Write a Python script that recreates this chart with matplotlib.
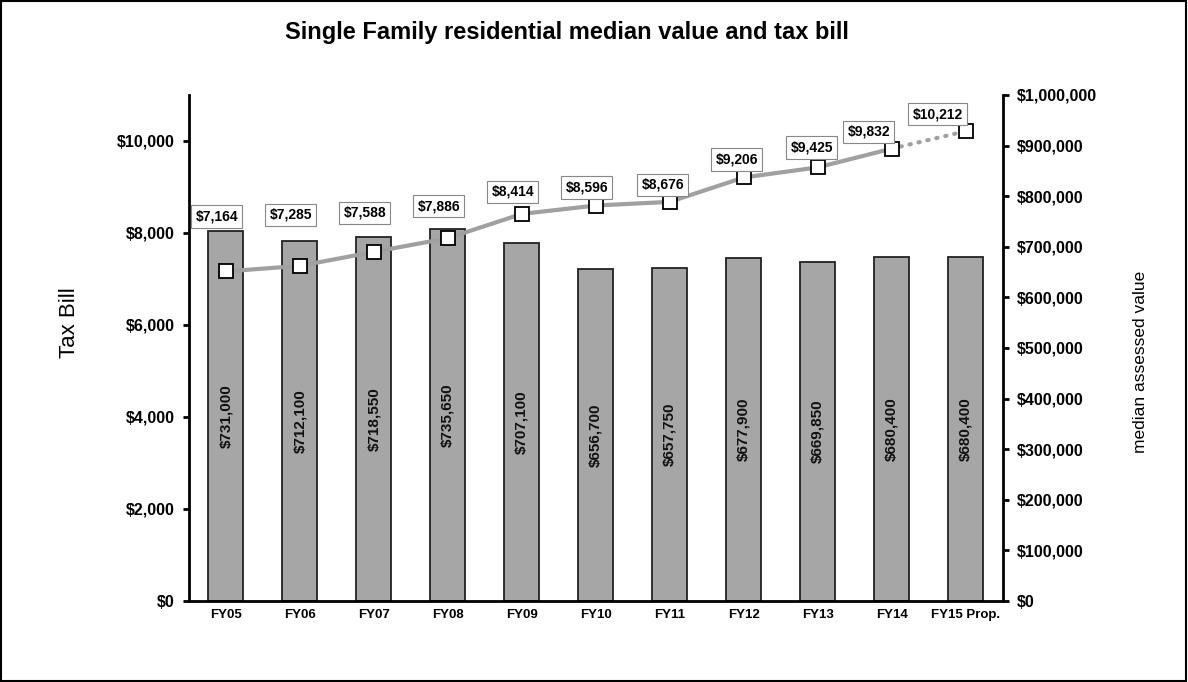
import numpy as np
import matplotlib
matplotlib.use('Agg')
import matplotlib.pyplot as plt
from matplotlib.patches import Rectangle
plt.rcParams['font.family'] = ['Liberation Sans', 'DejaVu Sans']

# chart data
years = ['FY05', 'FY06', 'FY07', 'FY08', 'FY09', 'FY10', 'FY11', 'FY12', 'FY13', 'FY14', 'FY15 Prop.']
median_value = [731000, 712100, 718550, 735650, 707100, 656700, 657750, 677900, 669850, 680400, 680400]
tax_bill = [7164, 7285, 7588, 7886, 8414, 8596, 8676, 9206, 9425, 9832, 10212]

# where each tax label sits relative to its marker (pixels)
label_dx = [-9, -9, -9, -9, -9, -9, -7, -7, -6, -23, -28]
label_dy = [55, 51, 39, 32, 22, 18, 17, 18, 20, 17, 17]

fig = plt.figure(figsize=(11.88, 6.82), dpi=100)
fig.patches.append(Rectangle((0.001, 0.002), 0.997, 0.996, transform=fig.transFigure,
                             fill=False, edgecolor='black', linewidth=1.5))

ax = fig.add_axes([0.159, 0.1188, 0.685, 0.742])
ax2 = ax.twinx()

x = np.arange(len(years))

# bars: median assessed value on the right axis
ax2.bar(x, median_value, width=0.47, color='#a6a6a6', edgecolor='#222222', linewidth=1.3, zorder=1)
for xi, v in zip(x, median_value):
    ax2.text(xi, v / 2, '${:,}'.format(v), rotation=90, ha='center', va='center',
             fontsize=11, fontweight='bold', color='#111111')

# line: tax bill on the left axis, drawn above the bars
ax.set_zorder(ax2.get_zorder() + 1)
ax.patch.set_visible(False)
ax.plot(x[:-1], tax_bill[:-1], color='#a0a0a0', linewidth=3, zorder=2)
ax.plot(x[-2:], tax_bill[-2:], color='#a0a0a0', linewidth=3, linestyle=(0, (0.3, 1.9)),
        dash_capstyle='round', zorder=2)
ax.plot(x, tax_bill, linestyle='none', marker='s', markersize=10.5, markerfacecolor='white',
        markeredgecolor='black', markeredgewidth=1.3, zorder=3)

for xi, t, dx, dy in zip(x, tax_bill, label_dx, label_dy):
    ax.annotate('${:,}'.format(t), (xi, t), xytext=(dx, dy), textcoords='offset pixels',
                ha='center', va='center', fontsize=10, fontweight='bold',
                bbox=dict(boxstyle='square,pad=0.3', facecolor='white', edgecolor='#888888',
                          linewidth=0.8), zorder=4)

ax.set_xlim(-0.5, len(years) - 0.5)
ax.set_ylim(0, 11000)
ax2.set_ylim(0, 1000000)
ax.set_yticks(range(0, 10001, 2000))
ax2.set_yticks(range(0, 1000001, 100000))
ax.set_yticklabels(['${:,}'.format(v) for v in range(0, 10001, 2000)])
ax2.set_yticklabels(['${:,}'.format(v) for v in range(0, 1000001, 100000)])
ax.set_xticks(x)
ax.set_xticklabels(years)

for a in (ax, ax2):
    a.spines['top'].set_visible(False)
    for s in ('left', 'right', 'bottom'):
        a.spines[s].set_linewidth(2)
ax.spines['right'].set_visible(False)
ax2.spines['left'].set_visible(False)
ax2.spines['bottom'].set_visible(False)

ax.tick_params(axis='y', length=4, width=2, labelsize=11.5, pad=6)
ax2.tick_params(axis='y', length=4, width=2, labelsize=11.5, pad=6)
ax.tick_params(axis='x', length=0, labelsize=9.5, pad=6)
for lbl in ax.get_yticklabels() + ax2.get_yticklabels() + ax.get_xticklabels():
    lbl.set_fontweight('bold')

ax.set_ylabel('Tax Bill', fontsize=16)
ax.yaxis.set_label_coords(-0.134, 0.551)
ax2.set_ylabel('median assessed value', fontsize=12.5)
ax2.yaxis.set_label_coords(1.160, 0.472)

fig.text(0.477, 0.952, 'Single Family residential median value and tax bill', ha='center', va='center',
         fontsize=17, fontweight='bold')

fig.savefig('out.png', dpi=100)
